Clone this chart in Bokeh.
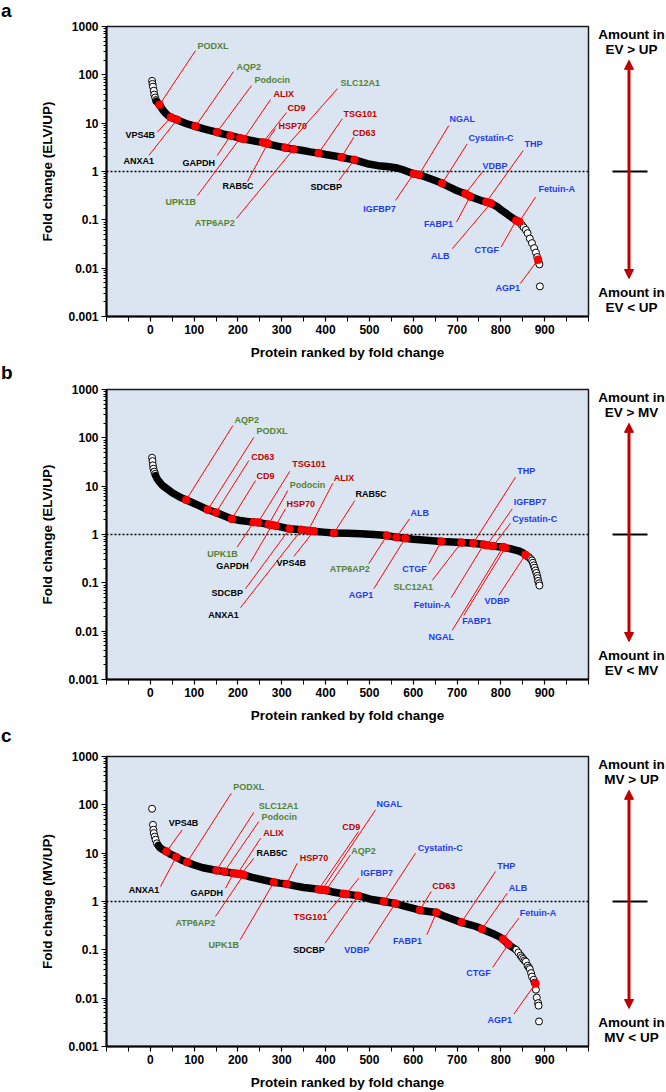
from bokeh.plotting import figure
from bokeh.layouts import column, row
from bokeh.models import (Range1d, FixedTicker, PrintfTickFormatter, Span,
                          Arrow, NormalHead, ColumnDataSource)
from bokeh.core.properties import value
from bokeh.embed import file_html
from bokeh.resources import INLINE

FONT = "Liberation Sans"

# ---------------- data ----------------
# Panel a : EV vs UP
a_head_rank = [4, 5, 6, 8, 9, 11, 13]
a_head_fc = [75, 65, 57, 47, 39, 34, 30]
a_band_rank = [14, 18, 21, 25, 30, 35, 40, 47, 55, 61, 70, 80, 90, 103, 120, 135, 152, 165, 183, 205,
               213, 230, 245, 260, 275, 290, 308, 327, 345, 365, 384, 400, 420, 436, 450, 466, 495, 520, 540, 560,
               575, 590, 601, 613, 630, 650, 666, 680, 695, 710, 719, 730, 745, 755, 767, 777, 790, 801, 810, 820,
               828, 835, 842, 846]
a_band_fc = [28, 26, 24, 21, 18, 16, 14.5, 13.2, 12.3, 11.8, 10.8, 10, 9.3, 8.6, 7.7, 7.1, 6.5, 6.0, 5.5, 4.9,
             4.7, 4.4, 4.15, 3.95, 3.6, 3.35, 3.1, 2.9, 2.75, 2.55, 2.4, 2.25, 2.1, 1.97, 1.85, 1.74, 1.45, 1.32, 1.27, 1.2,
             1.1, 0.98, 0.9, 0.855, 0.76, 0.65, 0.57, 0.49, 0.42, 0.37, 0.347, 0.305, 0.27, 0.25, 0.234, 0.22, 0.19, 0.16, 0.14, 0.12,
             0.107, 0.097, 0.091, 0.082]
a_tail_rank = [848, 852, 857, 861, 866, 871, 876, 880, 883, 886, 888, 889]
a_tail_fc = [0.078, 0.07, 0.062, 0.053, 0.041, 0.033, 0.026, 0.021, 0.017, 0.0135, 0.012, 0.0042]
a_names = ["PODXL", "VPS4B", "ANXA1", "AQP2", "Podocin", "GAPDH", "UPK1B", "ALIX", "CD9", "HSP70",
           "RAB5C", "SLC12A1", "ATP6AP2", "TSG101", "CD63", "SDCBP", "IGFBP7", "NGAL", "Cystatin-C", "VDBP",
           "FABP1", "THP", "ALB", "CTGF", "Fetuin-A", "AGP1"]
a_rank = [21, 47, 61, 103, 152, 183, 205, 213, 257, 263, 268, 308, 327, 384, 436, 466, 601, 613, 666, 719,
          730, 767, 777, 835, 842, 885]
a_fc = [24, 13.2, 11.8, 8.6, 6.5, 5.5, 4.9, 4.7, 4.0, 3.9, 3.8, 3.1, 2.9, 2.4, 1.97, 1.74, 0.90, 0.855, 0.57, 0.347,
        0.305, 0.234, 0.22, 0.097, 0.091, 0.015]
# label placement: text anchor (rank, log10 fold) and leader-line end (rank, log10 fold)
a_txt_rank = [107.7, -56.6, -61.2, 196.5, 237.8, 73.5, 34.7, 281.1, 313.1, 292.6,
              164.8, 434.0, 101.6, 440.9, 461.5, 365.6, 485.8, 682.8, 726.2, 758.1,
              624.4, 853.9, 640.8, 739.9, 885.9, 787.8]
a_txt_exp = [2.603, 0.764, 0.213, 2.169, 1.901, 0.186, -0.640, 1.612, 1.322, 0.950,
             -0.310, 1.839, -1.074, 1.198, 0.806, -0.324, -0.771, 1.095, 0.702, 0.124,
             -1.095, 0.579, -1.756, -1.632, -0.372, -2.417]
a_end_rank = [103.1, 15.7, -3.4, 189.9, 230.9, 152.7, 107.7, 274.3, 310.8, 285.8,
              221.8, 427.2, 196.7, 437.9, 464.4, 430.2, 559.6, 681.2, 723.2, 757.4,
              698.8, 851.0, 689.2, 800.5, 879.0, 844.1]
a_end_exp = [2.5, 0.812, 0.331, 2.066, 1.777, 0.331, -0.496, 1.488, 1.219, 0.888,
             -0.207, 1.715, -0.971, 1.089, 0.709, -0.186, -0.599, 0.950, 0.572, -0.014,
             -1.048, 0.434, -1.597, -1.564, -0.531, -2.320]

# Panel b : EV vs MV
b_head_rank = [4, 5, 6, 7, 9, 11]
b_head_fc = [38.7, 33, 27, 23, 20, 18]
b_band_rank = [12, 16, 20, 25, 30, 38, 50, 60, 70, 82, 95, 110, 131, 150, 165, 186, 205, 220, 236, 246,
               260, 270, 278, 286, 300, 318, 345, 360, 373, 395, 419, 450, 480, 510, 540, 562, 582, 600, 630, 664,
               690, 710, 737, 761, 768, 782, 795, 805, 810, 825, 840, 850, 856, 861]
b_band_fc = [16.5, 14, 12.5, 11, 10, 8.8, 7.3, 6.5, 5.8, 5.2, 4.6, 4.0, 3.25, 2.85, 2.5, 2.1, 1.95, 1.87, 1.8, 1.78,
             1.68, 1.61, 1.57, 1.51, 1.42, 1.31, 1.25, 1.2, 1.17, 1.12, 1.07, 1.06, 1.04, 1.0, 0.95, 0.88, 0.84, 0.8, 0.76, 0.72,
             0.7, 0.68, 0.66, 0.62, 0.6, 0.575, 0.56, 0.55, 0.53, 0.5, 0.46, 0.42, 0.38, 0.35]
b_tail_rank = [864, 868, 871, 873, 875, 877, 879, 881, 883, 884, 885, 887, 888]
b_tail_fc = [0.34, 0.31, 0.29, 0.26, 0.23, 0.205, 0.18, 0.16, 0.14, 0.125, 0.11, 0.098, 0.088]
b_names = ["AQP2", "PODXL", "CD63", "CD9", "UPK1B", "TSG101", "Podocin", "GAPDH", "HSP70", "SDCBP",
           "ANXA1", "ALIX", "VPS4B", "RAB5C", "ATP6AP2", "ALB", "AGP1", "CTGF", "SLC12A1", "THP",
           "Fetuin-A", "IGFBP7", "Cystatin-C", "NGAL", "FABP1", "VDBP"]
b_rank = [82, 131, 150, 186, 236, 246, 270, 278, 286, 318, 345, 360, 373, 419, 540, 562, 582, 664, 710, 737,
          761, 768, 782, 805, 810, 856]
b_fc = [5.2, 3.25, 2.85, 2.1, 1.8, 1.78, 1.61, 1.57, 1.51, 1.31, 1.25, 1.2, 1.17, 1.07, 0.95, 0.88, 0.84, 0.72, 0.68, 0.66,
        0.62, 0.60, 0.575, 0.55, 0.53, 0.38]
b_txt_rank = [192.2, 242.4, 230.3, 242.4, 129.8, 323.8, 318.3, 150.4, 310.8, 139.7,
              132.1, 418.8, 288.0, 468.3, 409.6, 593.8, 453.0, 574.9, 555.0, 837.3,
              601.3, 829.5, 825.9, 634.9, 711.8, 762.7]
b_txt_exp = [2.376, 2.149, 1.612, 1.219, -0.399, 1.461, 1.033, -0.661, 0.634, -1.205,
             -1.659, 1.171, -0.585, 0.841, -0.723, 0.448, -1.246, -0.723, -1.089, 1.308,
             -1.452, 0.667, 0.324, -2.122, -1.791, -1.384]
b_end_rank = [188.3, 236.2, 224.8, 240.1, 198.3, 318.3, 313.8, 228.7, 308.5, 217.3,
              205.8, 416.5, 327.5, 466.7, 498.6, 591.5, 510.0, 635.6, 643.3, 833.4,
              686.7, 825.9, 822.0, 689.0, 715.4, 795.3]
b_end_exp = [2.252, 2.010, 1.529, 1.116, -0.262, 1.308, 0.909, -0.572, 0.531, -1.122,
             -1.514, 1.060, -0.455, 0.702, -0.605, 0.324, -1.122, -0.605, -0.950, 1.184,
             -1.308, 0.531, 0.233, -1.983, -1.674, -1.260]

# Panel c : MV vs UP
c_head_rank = [4, 6, 7, 8, 10, 12, 15]
c_head_fc = [83, 38.7, 30.5, 26, 22, 19, 16]
c_band_rank = [18, 22, 27, 32, 37, 45, 52, 59, 70, 84, 100, 120, 135, 151, 169, 190, 199, 207, 213, 230,
               250, 265, 282, 295, 311, 330, 350, 370, 384, 392, 401, 420, 441, 447, 460, 474, 490, 505, 520, 533,
               559, 580, 600, 615, 635, 653, 670, 690, 710, 730, 745, 757, 770, 785, 795, 805, 817, 825, 832]
c_band_fc = [14.5, 13, 12, 11.3, 10.8, 9.6, 9.0, 8.3, 7.3, 6.5, 5.7, 5.0, 4.7, 4.4, 4.15, 3.85, 3.75, 3.65, 3.55, 3.2,
             2.9, 2.7, 2.5, 2.4, 2.3, 2.1, 1.95, 1.85, 1.78, 1.75, 1.71, 1.55, 1.44, 1.42, 1.37, 1.32, 1.2, 1.1, 1.05, 1.0,
             0.91, 0.8, 0.72, 0.66, 0.62, 0.59, 0.5, 0.43, 0.37, 0.33, 0.3, 0.27, 0.24, 0.21, 0.19, 0.166, 0.13, 0.115, 0.105]
c_tail_rank = [835, 840, 845, 848, 851, 854, 857, 861, 864, 866, 869, 871, 875, 877, 880, 882, 885, 886, 887]
c_tail_fc = [0.1, 0.088, 0.076, 0.07, 0.065, 0.06, 0.057, 0.047, 0.043, 0.04, 0.033, 0.028, 0.024, 0.021, 0.015,
             0.0103, 0.0079, 0.007, 0.0033]
c_names = ["VPS4B", "ANXA1", "PODXL", "SLC12A1", "Podocin", "GAPDH", "ALIX", "RAB5C", "ATP6AP2", "UPK1B",
           "HSP70", "CD9", "NGAL", "AQP2", "TSG101", "IGFBP7", "SDCBP", "Cystatin-C", "VDBP", "CD63",
           "FABP1", "THP", "ALB", "Fetuin-A", "CTGF", "AGP1"]
c_rank = [37, 59, 84, 151, 169, 190, 199, 207, 213, 282, 311, 384, 392, 401, 441, 447, 474, 533, 559, 615,
          653, 710, 757, 805, 817, 879]
c_fc = [10.8, 8.3, 6.5, 4.4, 4.15, 3.85, 3.75, 3.65, 3.55, 2.5, 2.3, 1.78, 1.75, 1.71, 1.44, 1.42, 1.32, 1.0, 0.91, 0.66,
        0.59, 0.37, 0.27, 0.166, 0.13, 0.020]
c_txt_rank = [42.2, -49.1, 189.2, 247.6, 253.8, 91.7, 257.6, 242.4, 57.5, 132.8,
              341.2, 437.9, 516.2, 458.5, 327.5, 479.7, 326.1, 610.5, 442.5, 643.3,
              553.6, 791.6, 818.1, 843.2, 721.1, 769.5]
c_txt_exp = [1.618, 0.242, 2.376, 1.983, 1.756, 0.171, 1.411, 0.998, -0.448, -0.909,
             0.895, 1.550, 2.010, 1.048, -0.331, 0.585, -1.012, 1.101, -1.012, 0.331,
             -0.826, 0.744, 0.289, -0.242, -1.481, -2.444]
c_end_rank = [72.8, 23.3, 184.6, 236.2, 247.6, 171.6, 251.5, 236.2, 148.8, 205.2,
              335.2, 475.1, 513.9, 456.9, 403.7, 475.8, 398.9, 605.2, 498.6, 641.0,
              631.2, 787.8, 814.5, 841.0, 781.4, 829.8]
c_end_exp = [1.481, 0.310, 2.238, 1.845, 1.653, 0.275, 1.308, 0.895, -0.310, -0.791,
             0.791, 1.446, 1.895, 0.965, -0.242, 0.481, -0.862, 0.998, -0.882, 0.207,
             -0.688, 0.620, 0.171, -0.345, -1.364, -2.329]

GREEN_SET = ["PODXL", "AQP2", "Podocin", "SLC12A1", "UPK1B", "ATP6AP2"]
RED_SET = ["ALIX", "CD9", "HSP70", "TSG101", "CD63"]
BLACK_SET = ["VPS4B", "ANXA1", "GAPDH", "RAB5C", "SDCBP"]

x_major = list(range(0, 901, 100))
x_minor = [-100, -50] + [t + 50 for t in range(0, 901, 100)] + [1000]
y_major = [0.001, 0.01, 0.1, 1, 10, 100, 1000]
y_minor = [m * 10.0 ** e for e in range(-3, 3) for m in range(2, 10)]

# ---------------- styles ----------------
BG = "#dbe5f1"
DARKRED = "#c00000"
C_GREEN = "#548235"
C_RED = "#c00000"
C_BLUE = "#1f3cf0"

PAGE_W = 666
MAIN_W = 594
SIDE_W = 72
FRAME_H = 290
STRIP_H = 20


def label_color(n):
    if n in GREEN_SET:
        return C_GREEN
    if n in RED_SET:
        return C_RED
    if n in BLACK_SET:
        return "#000000"
    return C_BLUE


def letter_strip(letter):
    lf = figure(width=PAGE_W, height=STRIP_H, x_range=Range1d(0, PAGE_W),
                y_range=Range1d(STRIP_H, 0), output_backend="svg", toolbar_location=None,
                title_location=None,
                x_axis_location=None, y_axis_location=None,
                min_border=0, min_border_left=0, min_border_right=0,
                min_border_top=0, min_border_bottom=0)
    lf.grid.visible = False
    lf.outline_line_color = None
    lf.text(x=[0.5], y=[STRIP_H / 2], text=[letter], text_font=value(FONT), text_font_size="19px",
            text_font_style="bold", text_color="black", text_align="left", text_baseline="middle")
    return lf


def panel(ylabel, head_r, head_f, band_r, band_f, tail_r, tail_f,
          names, rk, fc, tr, te, er, ee, top_txt, bot_txt, top, bottom):
    height = top + FRAME_H + bottom

    p = figure(width=MAIN_W, height=height, x_range=Range1d(-100, 1000),
               y_range=Range1d(0.001, 1000), y_axis_type="log",
               output_backend="svg", toolbar_location=None,
               min_border_left=106, min_border_right=6,
               min_border_top=top, min_border_bottom=bottom)
    p.background_fill_color = BG
    p.border_fill_color = "white"
    p.outline_line_color = "#1a1a1a"
    p.outline_line_width = 1.5
    p.grid.visible = False

    xa = p.xaxis[0]
    ya = p.yaxis[0]
    xa.ticker = FixedTicker(ticks=x_major, minor_ticks=x_minor)
    ya.ticker = FixedTicker(ticks=y_major, minor_ticks=y_minor)
    ya.formatter = PrintfTickFormatter(format="%g")
    xa.axis_label = "Protein ranked by fold change"
    ya.axis_label = ylabel
    for ax in (xa, ya):
        ax.axis_line_width = 2
        ax.axis_line_color = "black"
        ax.major_tick_line_width = 1.2
        ax.minor_tick_line_width = 1
        ax.major_tick_in = 0
        ax.minor_tick_in = 0
        ax.major_tick_out = 5
        ax.major_label_text_font = FONT
        ax.major_label_text_font_size = "12px"
        ax.major_label_text_font_style = "bold"
        ax.major_label_text_color = "black"
        ax.axis_label_text_font = FONT
        ax.axis_label_text_font_size = "13.5px"
        ax.axis_label_text_font_style = "bold"
        ax.axis_label_text_color = "black"
        ax.major_label_standoff = 3
    xa.minor_tick_out = 5
    ya.minor_tick_out = 3
    xa.axis_label_standoff = 8
    ya.axis_label_standoff = 10

    p.add_layout(Span(location=1, dimension="width", line_color="black",
                      line_width=1.5, line_dash="2 2", level="underlay"))

    p.scatter(head_r, head_f, size=7, fill_color="white", line_color="black", line_width=1)
    p.line(band_r, band_f, line_width=7.5, line_color="black", line_cap="round", line_join="round")
    p.scatter(tail_r, tail_f, size=7, fill_color="white", line_color="black", line_width=1)

    src = ColumnDataSource(dict(
        name=names, rank=rk, fc=fc,
        tx=tr, ty=[10 ** e for e in te],
        ex=er, ey=[10 ** e for e in ee],
        color=[label_color(n) for n in names]))
    p.segment(x0="rank", y0="fc", x1="ex", y1="ey", source=src,
              line_color="#ff0000", line_width=1)
    p.scatter("rank", "fc", source=src, size=8, fill_color="#ff0000", line_color="#e00000", line_width=0.5)
    p.text(x="tx", y="ty", text="name", source=src, text_color="color",
           text_font=value(FONT), text_font_size="9px", text_font_style="bold",
           text_align="left", text_baseline="middle")

    # side annotation
    s = figure(width=SIDE_W, height=height, x_range=Range1d(0, SIDE_W),
               y_range=Range1d(0.001, 1000), y_axis_type="log",
               output_backend="svg", toolbar_location=None,
               x_axis_location=None, y_axis_location=None,
               min_border_left=0, min_border_right=0,
               min_border_top=top, min_border_bottom=bottom)
    s.grid.visible = False
    s.outline_line_color = None
    s.background_fill_color = "white"
    s.border_fill_color = "white"
    s.add_layout(Arrow(start=NormalHead(size=9, fill_color=DARKRED, line_color=DARKRED),
                       end=NormalHead(size=9, fill_color=DARKRED, line_color=DARKRED),
                       x_start=34.5, y_start=10 ** -2.214, x_end=34.5, y_end=10 ** 2.30,
                       line_color=DARKRED, line_width=3))
    s.segment(x0=[18], y0=[1], x1=[53], y1=[1], line_color="black", line_width=2)
    s.text(x=[37, 37, 37, 37],
           y=[10 ** 2.844, 10 ** 2.521, 10 ** -2.504, 10 ** -2.814],
           text=["Amount in", top_txt, "Amount in", bot_txt],
           text_font=value(FONT), text_font_size="13.5px", text_font_style="bold",
           text_color="black", text_align="center", text_baseline="middle")
    return row(p, s)


la = letter_strip("a")
ra = panel("Fold change (ELV/UP)", a_head_rank, a_head_fc, a_band_rank, a_band_fc,
           a_tail_rank, a_tail_fc, a_names, a_rank, a_fc, a_txt_rank, a_txt_exp, a_end_rank, a_end_exp,
           "EV > UP", "EV < UP", 6, 46)
lb = letter_strip("b")
rb = panel("Fold change (ELV/UP)", b_head_rank, b_head_fc, b_band_rank, b_band_fc,
           b_tail_rank, b_tail_fc, b_names, b_rank, b_fc, b_txt_rank, b_txt_exp, b_end_rank, b_end_exp,
           "EV > MV", "EV < MV", 7, 46)
lc = letter_strip("c")
rc = panel("Fold change (MV/UP)", c_head_rank, c_head_fc, c_band_rank, c_band_fc,
           c_tail_rank, c_tail_fc, c_names, c_rank, c_fc, c_txt_rank, c_txt_exp, c_end_rank, c_end_exp,
           "MV > UP", "MV < UP", 11, 46)

layout = column(la, ra, lb, rb, lc, rc)
open("out.html", "w").write(file_html(layout, INLINE))
